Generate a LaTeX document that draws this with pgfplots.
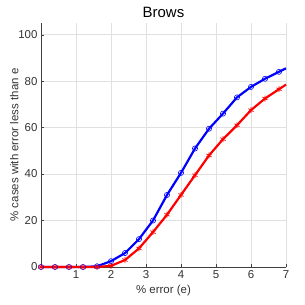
\documentclass[border=0pt]{standalone}
\usepackage{pgfplots}
\pgfplotsset{compat=1.18}
\usepackage{fontspec}
\setmainfont{Liberation Sans}
\begin{document}
\begin{tikzpicture}[x=1bp,y=1bp]
\useasboundingbox (-41bp,-38bp) rectangle (264bp,267bp);
\begin{axis}[
  at={(0,0)}, anchor=south west,
  scale only axis, width=245bp, height=244bp,
  xmin=0, xmax=7, ymin=0, ymax=105,
  xtick={1,2,3,4,5,6,7}, ytick={0,20,40,60,80,100},
  axis lines*=left,
  axis line style={color=black!75, line width=0.5pt},
  tick style={color=black!75},
  tick align=inside,
  major tick length=3bp,
  grid=major, grid style={color=black!12, line width=0.4pt},
  ticklabel style={font=\fontsize{11.5}{13}\selectfont, color=black!80},
  /pgf/number format/assume math mode=true,
  xlabel={\% error (e)}, ylabel={\% cases with error less than e},
  label style={font=\fontsize{11.5}{13}\selectfont, color=black!80},
  xlabel style={yshift=0bp},
  ylabel style={yshift=-7bp},
  title={Brows}, title style={font=\fontsize{15}{17}\selectfont, yshift=-4bp},
  clip=false,
]
\addplot[color=blue, line width=2.2pt, mark=o, mark size=2.6pt, mark options={line width=0.6pt}, mark indices={1,...,18}] coordinates {
(0,0) (0.4,0) (0.8,0) (1.2,0) (1.6,0.3) (2.0,2.5) (2.4,6) (2.8,12) (3.2,20) (3.6,31) (4.0,40.5) (4.4,51) (4.8,59.5) (5.2,66) (5.6,73) (6.0,77.5) (6.4,81) (6.8,84) (7.0,85.5)
};
\addplot[color=red, line width=2.2pt, mark=asterisk, mark size=3pt, mark options={line width=0.7pt}, mark indices={1,...,18}] coordinates {
(0,0) (0.4,0) (0.8,0) (1.2,0) (1.6,0) (2.0,0.5) (2.4,3) (2.8,8) (3.2,15) (3.6,22.5) (4.0,31) (4.4,39.5) (4.8,48) (5.2,55) (5.6,61) (6.0,67.5) (6.4,72.5) (6.8,76.5) (7.0,78.5)
};
\end{axis}
\end{tikzpicture}
\end{document}
